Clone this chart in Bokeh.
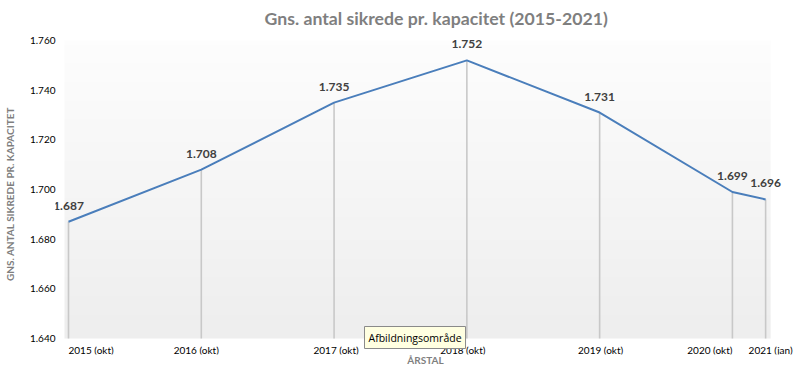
import numpy as np
import pandas as pd
from bokeh.plotting import figure
from bokeh.models import (ColumnDataSource, FixedTicker, NumeralTickFormatter, Label,
                          Range1d, Title)
from bokeh.core.properties import value
from bokeh.embed import file_html
from bokeh.resources import INLINE

# ---- data ----
periods = ["2015-10", "2016-10", "2017-10", "2018-10", "2019-10", "2020-10", "2021-01"]
period_labels = ["2015 (okt)", "2016 (okt)", "2017 (okt)", "2018 (okt)",
                 "2019 (okt)", "2020 (okt)", "2021 (jan)"]
values = [1.687, 1.708, 1.735, 1.752, 1.731, 1.699, 1.696]
y_ticks = [1.640, 1.660, 1.680, 1.700, 1.720, 1.740, 1.760]

title_text = "Gns. antal sikrede pr. kapacitet (2015-2021)"
y_title = "GNS. ANTAL SIKREDE PR. KAPACITET"
x_title = "ÅRSTAL"
tooltip_text = "Afbildningsområde"

# month index from first period
dt = pd.to_datetime(periods)
months = [(d.year - dt[0].year) * 12 + (d.month - dt[0].month) for d in dt]

FONT = "Lato"
# plot area (gradient) bounds and the wider frame that also holds the text
area_x = (-0.36, 63.45)
area_y = (y_ticks[0], y_ticks[-1])
x_range = Range1d(-1.175, 65.70)
y_range = Range1d(1.63356, 1.76282)

p = figure(frame_width=740, frame_height=321, x_range=x_range, y_range=y_range,
           output_backend="svg", toolbar_location=None,
           min_border_left=51, min_border_right=0, min_border_top=33, min_border_bottom=12)
p.outline_line_color = None
p.grid.visible = False
p.background_fill_color = "white"
p.border_fill_color = "white"

# plot-area gradient background
n = 64
shade = np.linspace(238, 253, n).astype(np.uint8)  # bottom -> top
rgba = np.zeros((n, 1, 4), dtype=np.uint8)
rgba[:, 0, 0] = shade
rgba[:, 0, 1] = shade
rgba[:, 0, 2] = shade
rgba[:, 0, 3] = 255
img = rgba.view(dtype=np.uint32).reshape((n, 1))
p.image_rgba(image=[img], x=area_x[0], y=area_y[0],
             dw=area_x[1] - area_x[0], dh=area_y[1] - area_y[0], level="image")

label_align = ["left", "center", "center", "center", "center", "right", "center"]
label_shift = [0, -5, 2, -4, 1, 0, 5]

src = ColumnDataSource(dict(x=months, y=values,
                            base=[area_y[0]] * len(values),
                            lab=[f"{v:.3f}" for v in values],
                            xlab=period_labels, align=label_align, shift=label_shift))

# drop lines
p.segment(x0="x", y0="base", x1="x", y1="y", source=src, line_color="#c8c8c8", line_width=1.6)
# main line
p.line(x="x", y="y", source=src, line_color="#4a7ebb", line_width=2)

# data labels
p.text(x="x", y="y", text="lab", source=src, y_offset=-16,
       text_align="center", text_baseline="middle",
       text_font=value(FONT), text_font_size="12px", text_font_style="bold",
       text_color="#404040")

# category labels under the plot area
p.text(x="x", y="base", text="xlab", source=src, x_offset="shift", y_offset=5,
       text_align="align", text_baseline="top",
       text_font=value(FONT), text_font_size="10px", text_color="#000000")

# title
p.add_layout(Title(text=title_text, align="left", offset=209, standoff=10,
                   text_font=FONT, text_font_size="17.7px", text_font_style="bold",
                   text_color="#7f7f7f"), "above")

# y axis
p.yaxis.ticker = FixedTicker(ticks=y_ticks)
p.yaxis.formatter = NumeralTickFormatter(format="0.000")
p.yaxis.axis_line_color = None
p.yaxis.major_tick_line_color = None
p.yaxis.minor_tick_line_color = None
p.yaxis.major_tick_out = 0
p.yaxis.major_label_standoff = 0
p.yaxis.major_label_text_font = FONT
p.yaxis.major_label_text_font_size = "10px"
p.yaxis.major_label_text_color = "#000000"
p.yaxis.axis_label = y_title
p.yaxis.axis_label_text_font = FONT
p.yaxis.axis_label_text_font_size = "10px"
p.yaxis.axis_label_text_font_style = "bold"
p.yaxis.axis_label_text_color = "#7f7f7f"
p.yaxis.axis_label_standoff = 11

# x axis: only its title
p.xaxis.ticker = FixedTicker(ticks=[])
p.xaxis.axis_line_color = None
p.xaxis.major_tick_line_color = None
p.xaxis.minor_tick_line_color = None
p.xaxis.major_tick_out = 0
p.xaxis.major_label_standoff = 0
p.xaxis.axis_label = x_title
p.xaxis.axis_label_text_font = FONT
p.xaxis.axis_label_text_font_size = "10px"
p.xaxis.axis_label_text_font_style = "bold"
p.xaxis.axis_label_text_color = "#7f7f7f"
p.xaxis.axis_label_standoff = -1

# tooltip (screen units, relative to the frame)
p.add_layout(Label(x=309, y=28, x_units="screen", y_units="screen", text=tooltip_text,
                   text_align="left", text_baseline="top",
                   text_font="Open Sans", text_font_size="10.5px", text_color="#000000",
                   background_fill_color="#ffffe1", border_line_color="#8a8a8a",
                   border_line_width=1, padding=4))

open("out.html", "w").write(file_html(p, INLINE))
